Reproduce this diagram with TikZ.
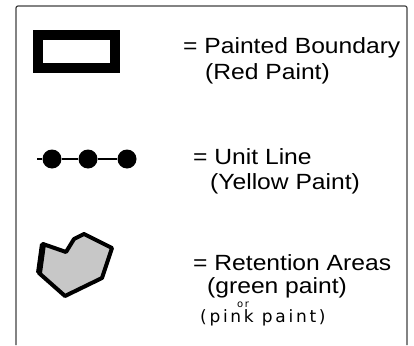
\documentclass[tikz,border=0pt]{standalone}
\usepackage{fontspec}
\setmainfont{Liberation Sans}[FakeStretch=1.12]
\newfontfamily\handfont[LetterSpace=16]{DejaVu Sans}
\usetikzlibrary{positioning}

\tikzset{
  legendtext/.style={anchor=base west,font=\fontsize{22}{25}\selectfont,inner sep=0pt,
    text height=16pt,text depth=3pt},
  handtext/.style={anchor=base west,font=\handfont\fontsize{17}{19}\selectfont,inner sep=0pt,
    text height=10pt,text depth=3pt},
  unitdot/.style={circle,fill=black,inner sep=0pt,minimum size=19pt},
}

\begin{document}
\begin{tikzpicture}[x=1pt,y=-1pt]
\useasboundingbox (0,0) rectangle (414,345);

% Frame (open at the bottom)
\draw[line width=1.2pt,black!75,rounded corners=2pt] (16,345) -- (16,6) -- (407,6) -- (407,345);

% Painted boundary symbol
\draw[line width=10pt] (38,35) rectangle (115,68);
\node[legendtext] (boundary) at (183,53) {= Painted Boundary};
\node[legendtext] (redpaint) at (205,79) {(Red Paint)};

% Unit line symbol
\coordinate (linestart) at (37,159);
\foreach \x/\name in {52/dotA, 88/dotB, 127/dotC} {
  \node[unitdot] (\name) at (\x,159) {};
}
\draw[line width=2pt] (linestart) -- (dotA) -- (dotB) -- (dotC);
\node[legendtext] (unitline) at (193,164) {= Unit Line};
\node[legendtext] (yellowpaint) at (210,189) {(Yellow Paint)};

% Retention area symbol
\filldraw[fill=black!22,line width=4pt,line join=round]
  (43,244) -- (39,273) -- (65,296) -- (102,278) -- (112,248)
  -- (84,234) -- (74,239) -- (66,252) -- cycle;
\draw[line width=6pt] (43,244) -- (39,273);
\node[legendtext] (retention) at (193,270) {= Retention Areas};
\node[legendtext] (greenpaint) at (207,293) {(green paint)};
\node[handtext,font=\handfont\fontsize{10}{11}\selectfont,text height=4pt,text depth=0pt] (ortext) at (237,307) {or};
\node[handtext] (pinkpaint) at (200,322) {(pink paint)};

\end{tikzpicture}
\end{document}
